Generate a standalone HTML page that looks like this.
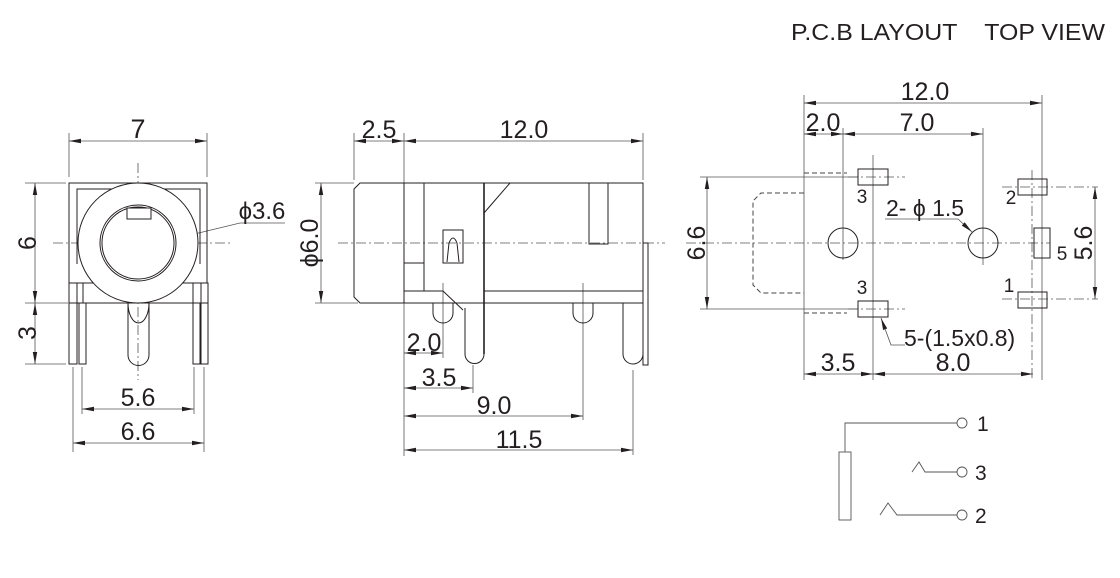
<!DOCTYPE html>
<html><head><meta charset="utf-8"><style>
html,body{margin:0;padding:0;background:#fff}
svg{display:block}
text{font-family:"Liberation Sans",Arial,sans-serif;fill:#231f20;white-space:pre}
</style></head><body>
<svg width="1120" height="578" viewBox="0 0 1120 578" xmlns="http://www.w3.org/2000/svg">
<defs>
<marker id="a" viewBox="0 0 12 6" refX="12" refY="3" markerWidth="12" markerHeight="6" markerUnits="userSpaceOnUse" orient="auto-start-reverse"><path d="M0,0.8 L12,3 L0,5.2 z" fill="#231f20"/></marker>
</defs>
<text x="791" y="40" font-size="23" textLength="314" lengthAdjust="spacingAndGlyphs" xml:space="preserve">P.C.B LAYOUT    TOP VIEW</text>

<!-- ========== FRONT VIEW ========== -->
<g stroke="#231f20" stroke-width="1" fill="none">
<g stroke="#555" stroke-width="0.8">
<line x1="69" y1="133" x2="69" y2="177"/><line x1="207" y1="133" x2="207" y2="177"/>
<line x1="69" y1="141" x2="207" y2="141" marker-start="url(#a)" marker-end="url(#a)"/>
<line x1="25" y1="183" x2="66" y2="183"/><line x1="25" y1="303" x2="68" y2="303"/><line x1="25" y1="364" x2="66" y2="364"/>
<line x1="35" y1="183" x2="35" y2="303" marker-start="url(#a)" marker-end="url(#a)"/>
<line x1="35" y1="303" x2="35" y2="364" marker-start="url(#a)" marker-end="url(#a)"/>
<line x1="82" y1="367" x2="82" y2="414"/><line x1="194" y1="367" x2="194" y2="414"/>
<line x1="82" y1="409" x2="194" y2="409" marker-start="url(#a)" marker-end="url(#a)"/>
<line x1="73" y1="367" x2="73" y2="452"/><line x1="204" y1="367" x2="204" y2="452"/>
<line x1="73" y1="443" x2="204" y2="443" marker-start="url(#a)" marker-end="url(#a)"/>
<polyline points="285,223 240,223 182,237" marker-end="url(#a)"/>
<line x1="53" y1="243" x2="232" y2="243" stroke-dasharray="10,3,2,3"/>
<line x1="138" y1="163" x2="138" y2="380" stroke-dasharray="10,3,2,3"/>
</g>
<rect x="69" y="183" width="138" height="100"/>
<polyline points="77,264 77,189 200,189 200,264"/>
<circle cx="138" cy="243" r="60" fill="#fff"/>
<circle cx="138" cy="243" r="38"/><circle cx="138" cy="243" r="36"/>
<rect x="127" y="208" width="24" height="11" fill="#fff"/>
<line x1="69" y1="303" x2="207" y2="303"/>
<rect x="69" y="283" width="14" height="20" fill="#fff"/>
<rect x="193" y="283" width="15" height="20" fill="#fff"/>
<rect x="69" y="283" width="8" height="81"/>
<rect x="79" y="303" width="7" height="61"/>
<rect x="193" y="303" width="7" height="61"/>
<rect x="201" y="283" width="7" height="81"/>
<path d="M128,303 V355 A10.5,10.5 0 0 0 149,355 V303"/>
<path d="M128,303 A10.5,20 0 0 0 149,303"/>
</g>
<text x="138" y="138" font-size="27" text-anchor="middle">7</text>
<text x="262" y="219" font-size="24" text-anchor="middle">ϕ3.6</text>
<text x="138" y="406" font-size="25" text-anchor="middle">5.6</text>
<text x="138" y="440" font-size="25" text-anchor="middle">6.6</text>
<text transform="translate(36,243) rotate(-90)" font-size="25" text-anchor="middle">6</text>
<text transform="translate(36,333) rotate(-90)" font-size="25" text-anchor="middle">3</text>

<!-- ========== SIDE VIEW ========== -->
<g stroke="#231f20" stroke-width="1" fill="none">
<g stroke="#555" stroke-width="0.8">
<line x1="354" y1="133" x2="354" y2="180"/><line x1="404" y1="133" x2="404" y2="456"/><line x1="643" y1="133" x2="643" y2="180"/>
<line x1="354" y1="141" x2="404" y2="141" marker-start="url(#a)" marker-end="url(#a)"/>
<line x1="404" y1="141" x2="643" y2="141" marker-start="url(#a)" marker-end="url(#a)"/>
<line x1="315" y1="183" x2="354" y2="183"/><line x1="315" y1="303" x2="358" y2="303"/>
<line x1="321" y1="183" x2="321" y2="303" marker-start="url(#a)" marker-end="url(#a)"/>
<line x1="338" y1="243" x2="665" y2="243" stroke-dasharray="10,3,2,3"/>
<line x1="443" y1="283" x2="443" y2="358"/>
<line x1="583" y1="283" x2="583" y2="420"/>
<line x1="473" y1="365" x2="473" y2="393"/>
<line x1="633" y1="370" x2="633" y2="455"/>
<line x1="404" y1="353" x2="443" y2="353" marker-start="url(#a)" marker-end="url(#a)"/>
<line x1="404" y1="388" x2="473" y2="388" marker-start="url(#a)" marker-end="url(#a)"/>
<line x1="404" y1="416" x2="583" y2="416" marker-start="url(#a)" marker-end="url(#a)"/>
<line x1="404" y1="450" x2="633" y2="450" marker-start="url(#a)" marker-end="url(#a)"/>
</g>
<path d="M360,183 H643 V303 H360 L354,297 V189 Z"/>
<line x1="404" y1="183" x2="404" y2="303"/>
<line x1="424" y1="183" x2="424" y2="291"/>
<line x1="404" y1="263" x2="424" y2="263"/>
<polyline points="404,291 443,291 463,310"/>
<line x1="484" y1="291" x2="643" y2="291"/>
<line x1="484" y1="213" x2="510" y2="183"/>
<rect x="589" y="183" width="19" height="61"/>
<rect x="443" y="230" width="20" height="33"/>
<path d="M447,262 L449,243 Q453,233 457,243 L459,262"/>
<path d="M433,303 V313 A10,10 0 0 0 453,313 V303"/>
<path d="M573,303 V313 A10,10 0 0 0 593,313 V303"/>
<path d="M465,308 V354 A9.5,9.5 0 0 0 484,354"/>
<path d="M623,303 V354 A10,10 0 0 0 643,354"/>
<rect x="643" y="243" width="5" height="122"/>
<line x1="484" y1="183" x2="484" y2="354" stroke-width="1.6"/>
</g>
<text x="379" y="138" font-size="25" text-anchor="middle">2.5</text>
<text x="524" y="138" font-size="25" text-anchor="middle">12.0</text>
<text transform="translate(318,243) rotate(-90)" font-size="25" text-anchor="middle">ϕ6.0</text>
<text x="424" y="351" font-size="25" text-anchor="middle">2.0</text>
<text x="439" y="386" font-size="25" text-anchor="middle">3.5</text>
<text x="494" y="414" font-size="25" text-anchor="middle">9.0</text>
<text x="519" y="448" font-size="25" text-anchor="middle">11.5</text>

<!-- ========== PCB LAYOUT ========== -->
<g stroke="#231f20" stroke-width="1" fill="none">
<g stroke="#555" stroke-width="0.8">
<line x1="804" y1="95" x2="804" y2="380"/><line x1="1042" y1="95" x2="1042" y2="380"/>
<line x1="843" y1="128" x2="843" y2="260"/><line x1="983" y1="128" x2="983" y2="265"/>
<line x1="804" y1="103" x2="1042" y2="103" marker-start="url(#a)" marker-end="url(#a)"/>
<line x1="804" y1="134" x2="843" y2="134" marker-start="url(#a)" marker-end="url(#a)"/>
<line x1="843" y1="134" x2="983" y2="134" marker-start="url(#a)" marker-end="url(#a)"/>
<line x1="686" y1="243" x2="1050" y2="243" stroke-dasharray="10,3,2,3"/>
<line x1="873" y1="155" x2="873" y2="380"/>
<line x1="848" y1="177" x2="905" y2="177" stroke-dasharray="10,3,2,3"/>
<line x1="848" y1="309" x2="905" y2="309" stroke-dasharray="10,3,2,3"/>
<line x1="1002" y1="187" x2="1098" y2="187" stroke-dasharray="10,3,2,3"/>
<line x1="1002" y1="299" x2="1098" y2="299" stroke-dasharray="10,3,2,3"/>
<line x1="1032" y1="170" x2="1032" y2="380" stroke-dasharray="10,3,2,3"/>
<line x1="700" y1="177" x2="858" y2="177"/><line x1="700" y1="309" x2="858" y2="309"/>
<line x1="707" y1="177" x2="707" y2="309" marker-start="url(#a)" marker-end="url(#a)"/>
<line x1="1095" y1="187" x2="1095" y2="299" marker-start="url(#a)" marker-end="url(#a)"/>
<line x1="804" y1="374" x2="873" y2="374" marker-start="url(#a)" marker-end="url(#a)"/>
<line x1="873" y1="374" x2="1033" y2="374" marker-start="url(#a)" marker-end="url(#a)"/>
<polyline points="885,219 958,219 972,232" marker-end="url(#a)"/>
<polyline points="905,345 891,345 881,318" marker-end="url(#a)"/>
</g>
<g stroke-dasharray="5,3" stroke="#444">
<polyline points="804,173 847,173"/><polyline points="804,313 847,313"/>
<path d="M804,193 H761 L753,201 V285 L761,293 H804"/>
</g>
<circle cx="843" cy="243" r="15"/><circle cx="983" cy="243" r="15"/>
<rect x="858" y="169" width="30" height="16"/>
<rect x="858" y="301" width="30" height="16"/>
<rect x="1018" y="179" width="29" height="16"/>
<rect x="1018" y="292" width="29" height="16"/>
<rect x="1034" y="228" width="16" height="30"/>
</g>
<text x="925" y="100" font-size="25" text-anchor="middle">12.0</text>
<text x="823" y="131" font-size="25" text-anchor="middle">2.0</text>
<text x="917" y="131" font-size="25" text-anchor="middle">7.0</text>
<text x="862" y="203" font-size="19" text-anchor="middle">3</text>
<text x="862" y="294" font-size="19" text-anchor="middle">3</text>
<text x="1011" y="204" font-size="19" text-anchor="middle">2</text>
<text x="1009" y="292" font-size="19" text-anchor="middle">1</text>
<text x="1062" y="260" font-size="19" text-anchor="middle">5</text>
<text x="886" y="216" font-size="23" xml:space="preserve">2- ϕ 1.5</text>
<text x="904" y="346" font-size="23">5-(1.5x0.8)</text>
<text x="838" y="371" font-size="25" text-anchor="middle">3.5</text>
<text x="953" y="371" font-size="25" text-anchor="middle">8.0</text>
<text transform="translate(705,243) rotate(-90)" font-size="25" text-anchor="middle">6.6</text>
<text transform="translate(1092,243) rotate(-90)" font-size="25" text-anchor="middle">5.6</text>

<!-- ========== SCHEMATIC ========== -->
<g stroke="#555" stroke-width="0.9" fill="none">
<rect x="839" y="452" width="12" height="68"/>
<polyline points="845,452 845,423 957,423"/>
<circle cx="962" cy="423" r="5"/>
<polyline points="912,472 919,462 925,472 957,472"/>
<circle cx="962" cy="472" r="5"/>
<polyline points="880,515 888,503 897,515 957,515"/>
<circle cx="962" cy="515" r="5"/>
</g>
<text x="977" y="431" font-size="21">1</text>
<text x="975" y="480" font-size="21">3</text>
<text x="975" y="523" font-size="21">2</text>
</svg>
</body></html>
